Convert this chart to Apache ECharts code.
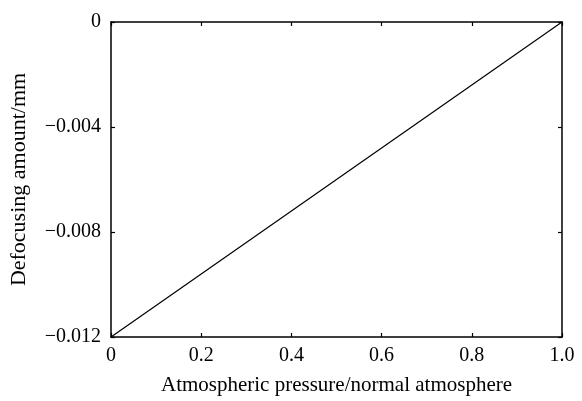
<!DOCTYPE html>
<html>
<head>
<meta charset="utf-8">
<script src="https://cdn.jsdelivr.net/npm/echarts@6/dist/echarts.min.js"></script>
<style>
  html, body { margin: 0; padding: 0; background: #fff; }
  #chart { width: 582px; height: 401px; }
</style>
</head>
<body>
<div id="chart"></div>
<script>
// pressure in normal atmospheres vs defocusing in mm
var pressure = [0, 0.5, 1.0];
var defocus = [-0.012, -0.006, 0];
var xTicks = ['0', '0.2', '0.4', '0.6', '0.8', '1.0'];
var yTicks = ['0', '\u22120.004', '\u22120.008', '\u22120.012'];

var font = 'Liberation Serif';

function fmtX(v) {
  var i = Math.round(v / 0.2);
  return xTicks[i] || '';
}
function fmtY(v) {
  var i = Math.round(-v / 0.004);
  return yTicks[i] || '';
}

var axisLine = { show: true, onZero: false, lineStyle: { color: '#000', width: 1.5 } };
var tick = { show: true, inside: true, length: 4, lineStyle: { color: '#000', width: 1.2 } };

var chart = echarts.init(document.getElementById('chart'));
chart.setOption({
  animation: false,
  grid: { left: 111, right: 20, top: 22, bottom: 62 },
  xAxis: [{
    type: 'value', min: 0, max: 1, interval: 0.2,
    name: 'Atmospheric pressure/normal atmosphere',
    nameLocation: 'middle', nameGap: 38,
    nameTextStyle: { fontFamily: font, fontSize: 21, color: '#000' },
    axisLine: axisLine, axisTick: tick, splitLine: { show: false },
    axisLabel: { formatter: fmtX, fontFamily: font, fontSize: 20, color: '#000', margin: 9 }
  }, {
    type: 'value', min: 0, max: 1, interval: 0.2, position: 'top',
    axisLine: axisLine, axisTick: tick, splitLine: { show: false },
    axisLabel: { show: false }
  }],
  yAxis: [{
    type: 'value', min: -0.012, max: 0, interval: 0.004,
    name: 'Defocusing amount/mm',
    nameLocation: 'middle', nameGap: 81,
    nameTextStyle: { fontFamily: font, fontSize: 22, color: '#000' },
    axisLine: axisLine, axisTick: tick, splitLine: { show: false },
    axisLabel: { formatter: fmtY, fontFamily: font, fontSize: 20, color: '#000', margin: 10 }
  }, {
    type: 'value', min: -0.012, max: 0, interval: 0.004, position: 'right',
    axisLine: axisLine, axisTick: tick, splitLine: { show: false },
    axisLabel: { show: false }
  }],
  series: [{
    type: 'line',
    data: pressure.map(function (p, i) { return [p, defocus[i]]; }),
    showSymbol: false,
    lineStyle: { color: '#000', width: 1.2 }
  }]
});
</script>
</body>
</html>
